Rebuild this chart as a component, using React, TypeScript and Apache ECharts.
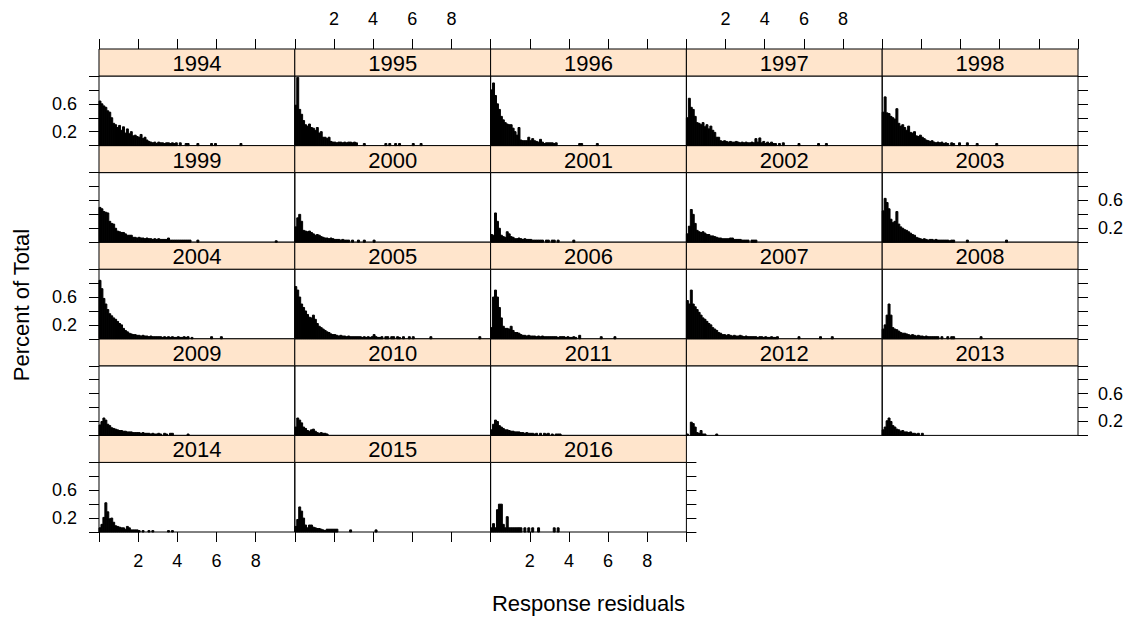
import React, { useEffect, useRef } from "react";
import * as echarts from "echarts";

const years = ["1994","1995","1996","1997","1998","1999","2000","2001","2002","2003","2004","2005","2006","2007","2008","2009","2010","2011","2012","2013","2014","2015","2016"];
const BIN = 0.1;
const xTicks = [2, 4, 6, 8];
const yTickLabels = ["0.2", "0.6"];

const h1994 = [0.64,0.6,0.57,0.55,0.5,0.48,0.4,0.32,0.3,0.26,0.29,0.22,0.27,0.18,0.24,0.17,0.2,0.14,0.15,0.13,0.12,0.16,0.1,0.12,0.08,0.06,0.05,0.04,0.05,0.03,0.05,0.04,0.04,0.03,0.04,0.04,0.03,0.04,0.03,0.04,0,0.04,0,0,0.03,0.03,0,0,0,0,0.03,0,0,0,0,0,0,0.03,0,0.03,0,0,0,0,0,0,0,0,0,0,0,0,0.03];
const h1995 = [0.58,0.98,0.52,0.45,0.36,0.3,0.28,0.31,0.26,0.25,0.22,0.26,0.18,0.2,0.12,0.12,0.1,0.12,0.06,0.05,0.05,0.04,0.05,0.05,0.04,0.05,0.04,0.05,0.05,0.04,0.05,0.04,0,0,0,0.03,0,0,0,0,0,0,0,0,0,0,0.03,0,0.03,0,0,0.03,0,0.03,0,0,0,0,0,0,0.03,0,0,0,0.03];
const h1996 = [0.8,0.9,0.72,0.6,0.52,0.42,0.37,0.33,0.31,0.3,0.3,0.25,0.2,0.15,0.26,0.08,0.07,0.07,0.07,0.12,0.07,0.1,0.07,0.06,0.05,0.09,0.05,0.03,0.04,0.04,0.04,0.04,0.03,0.04,0,0,0,0,0,0,0,0,0,0,0,0.03,0.03,0,0,0,0,0,0,0,0.03];
const h1997 = [0.4,0.68,0.55,0.52,0.42,0.33,0.32,0.3,0.33,0.27,0.3,0.24,0.28,0.22,0.19,0.12,0.12,0.07,0.06,0.07,0.06,0.05,0.06,0.05,0.05,0.06,0.05,0.04,0.05,0.04,0.05,0.04,0.04,0.05,0.04,0.1,0.05,0.11,0.04,0.06,0.03,0.05,0.03,0.05,0.03,0.03,0,0.03,0,0.04,0,0,0,0,0,0,0,0.03,0,0,0,0,0,0,0,0,0,0.03,0,0,0,0.03];
const h1998 = [0.48,0.7,0.47,0.46,0.42,0.4,0.38,0.53,0.32,0.28,0.3,0.26,0.22,0.28,0.19,0.18,0.2,0.14,0.13,0.15,0.12,0.1,0.08,0.07,0.06,0.07,0.05,0.04,0.05,0.04,0.05,0.03,0.04,0.03,0,0.04,0.03,0,0,0.04,0,0,0,0.04,0,0,0,0,0.03,0,0,0,0,0,0,0,0,0,0.03];
const h1999 = [0.5,0.48,0.44,0.43,0.42,0.3,0.27,0.26,0.2,0.16,0.15,0.14,0.14,0.12,0.1,0.1,0.1,0.07,0.07,0.06,0.07,0.06,0.06,0.05,0.06,0.05,0.05,0.04,0.05,0.04,0.05,0.04,0.04,0.04,0.04,0.06,0.03,0.03,0.03,0.03,0.03,0.03,0.03,0.03,0.03,0.03,0.03,0,0,0,0.03,0,0,0,0,0,0,0,0,0,0,0,0,0,0,0,0,0,0,0,0,0,0,0,0,0,0,0,0,0,0,0,0,0,0,0,0,0,0,0,0.02];
const h2000 = [0.22,0.35,0.4,0.3,0.17,0.16,0.15,0.16,0.14,0.12,0.1,0.11,0.1,0.08,0.07,0.06,0.06,0.05,0.06,0.05,0.04,0.04,0.04,0.03,0.04,0.03,0.03,0.03,0,0.03,0,0,0.03,0,0,0.03,0,0,0,0,0.03];
const h2001 = [0.11,0.1,0.42,0.3,0.2,0.1,0.08,0.07,0.15,0.12,0.08,0.07,0.05,0.05,0.06,0.05,0.04,0.05,0.04,0.04,0.04,0.03,0.03,0.03,0.03,0.03,0.03,0,0.03,0.03,0,0.03,0.03,0,0.03,0,0,0,0,0,0,0,0.03];
const h2002 = [0.12,0.23,0.47,0.4,0.27,0.17,0.15,0.14,0.15,0.13,0.11,0.11,0.09,0.09,0.08,0.07,0.06,0.06,0.05,0.05,0.05,0.05,0.06,0.06,0.04,0.04,0.04,0.04,0.03,0.03,0.03,0.03,0,0.03,0.03,0.03];
const h2003 = [0.45,0.63,0.57,0.48,0.33,0.28,0.3,0.44,0.26,0.22,0.2,0.18,0.17,0.15,0.13,0.11,0.1,0.07,0.06,0.05,0.04,0.05,0.04,0.03,0.04,0.04,0.03,0.04,0.03,0.03,0.03,0.03,0.03,0.03,0.02,0.03,0.03,0,0,0,0,0,0,0.03,0,0,0,0,0,0,0,0,0,0,0,0,0,0,0,0,0,0,0,0.03];
const h2004 = [0.84,0.72,0.58,0.5,0.42,0.36,0.33,0.3,0.28,0.25,0.22,0.2,0.15,0.12,0.1,0.08,0.07,0.06,0.06,0.05,0.05,0.04,0.05,0.04,0.04,0.03,0.04,0.03,0.03,0.03,0.03,0.03,0.02,0.03,0.02,0.03,0.02,0.03,0.02,0.02,0.03,0.02,0.02,0.03,0.02,0.03,0,0.02,0,0,0,0,0,0,0,0,0,0.03,0,0,0,0,0.03];
const h2005 = [0.75,0.7,0.6,0.5,0.45,0.4,0.35,0.31,0.3,0.34,0.28,0.22,0.18,0.16,0.14,0.12,0.1,0.09,0.07,0.06,0.06,0.05,0.04,0.05,0.04,0.04,0.03,0.04,0.03,0.03,0.03,0.03,0.03,0.03,0.02,0.03,0.02,0.03,0.02,0.03,0.06,0.03,0.02,0.02,0.03,0,0.03,0.03,0,0.03,0.03,0,0.03,0.02,0,0.03,0,0,0.03,0,0.03,0,0,0,0,0,0,0,0,0.03,0,0,0,0,0,0,0,0,0,0,0,0,0,0,0,0,0,0,0,0,0,0,0,0,0.03];
const h2006 = [0.16,0.6,0.7,0.6,0.45,0.3,0.18,0.15,0.15,0.14,0.18,0.12,0.09,0.09,0.08,0.06,0.05,0.05,0.04,0.05,0.04,0.04,0.04,0.03,0.04,0.03,0.04,0.03,0.03,0.03,0.03,0.03,0.03,0.03,0.02,0.03,0.03,0.03,0.02,0.03,0.02,0.02,0.03,0.02,0,0.05,0,0,0,0,0,0,0,0,0,0,0.03,0,0,0,0,0,0,0.03];
const h2007 = [0.55,0.5,0.7,0.5,0.46,0.42,0.38,0.34,0.3,0.28,0.25,0.22,0.2,0.16,0.14,0.12,0.09,0.08,0.06,0.06,0.05,0.06,0.05,0.04,0.05,0.04,0.04,0.05,0.04,0.03,0.04,0.03,0.03,0.03,0.03,0.03,0.02,0.03,0.03,0.02,0.03,0.02,0.02,0.03,0.02,0.02,0.03,0,0,0,0,0,0,0,0,0,0,0.03,0,0,0,0,0,0,0,0,0,0,0.03,0,0,0,0,0,0.03];
const h2008 = [0.14,0.2,0.34,0.5,0.34,0.16,0.14,0.13,0.11,0.09,0.08,0.08,0.07,0.06,0.05,0.06,0.05,0.04,0.05,0.04,0.04,0.03,0.04,0.03,0.03,0.03,0.03,0.03,0.03,0,0.03,0,0,0.03,0,0.03,0.03,0,0,0,0,0,0,0,0,0,0,0,0,0,0.03];
const h2009 = [0.15,0.2,0.25,0.22,0.16,0.14,0.11,0.1,0.09,0.08,0.07,0.07,0.06,0.06,0.05,0.05,0.05,0.04,0.04,0.04,0.04,0.03,0.04,0.03,0.03,0.03,0.02,0.03,0.02,0.02,0.03,0.02,0,0.03,0.02,0,0.03,0.03,0,0,0,0,0,0,0,0.02];
const h2010 = [0.12,0.25,0.22,0.18,0.12,0.1,0.07,0.06,0.08,0.09,0.06,0.04,0.03,0.04,0.03,0.03,0.02];
const h2011 = [0.08,0.16,0.22,0.2,0.14,0.12,0.1,0.08,0.08,0.07,0.06,0.06,0.05,0.05,0.05,0.04,0.04,0.03,0.04,0.03,0.03,0.03,0.02,0.03,0,0.03,0,0.03,0.02,0.03,0,0.02,0,0.02,0.02,0.02];
const h2012 = [0.02,0,0.19,0.17,0.12,0.04,0.03,0.07,0.02,0.02,0,0,0,0,0,0.02];
const h2013 = [0.08,0.12,0.21,0.25,0.2,0.14,0.12,0.09,0.08,0.06,0.07,0.05,0.05,0.04,0.05,0.03,0.03,0.02,0.03,0,0.03];
const h2014 = [0.06,0.11,0.21,0.42,0.29,0.19,0.2,0.14,0.09,0.08,0.07,0.06,0.06,0.04,0.08,0.06,0.03,0.03,0.03,0.03,0.02,0,0.02,0,0,0.02,0,0.02,0,0,0,0,0,0,0,0.02,0,0.02];
const h2015 = [0.08,0.18,0.36,0.3,0.2,0.1,0.06,0.1,0.1,0.07,0.06,0.05,0.05,0.04,0.03,0.02,0.04,0.04,0.04,0.04,0.04,0.04,0,0,0,0,0,0,0.03,0,0,0,0,0,0,0,0,0,0,0,0,0.03];
const h2016 = [0.06,0.12,0.06,0.32,0.4,0.4,0.11,0.06,0.22,0.06,0.06,0.06,0.06,0.06,0.06,0.06,0,0.06,0,0.06,0,0.06,0,0,0.06,0,0,0,0,0,0,0,0.06,0,0.06];

const heights = [h1994,h1995,h1996,h1997,h1998,h1999,h2000,h2001,h2002,h2003,h2004,h2005,h2006,h2007,h2008,h2009,h2010,h2011,h2012,h2013,h2014,h2015,h2016];

const FONT = "'Liberation Sans', Arial, Helvetica, sans-serif";
const X0 = 99;
const COL_W = 195.8;
const TOP0 = 49;
const ROW_H = 96.6;
const STRIP_H = 27;
const PANEL_H = ROW_H - STRIP_H;
const NCOL = 5;
const NROW = 5;

export default function App() {
  const ref = useRef<HTMLDivElement>(null);
  useEffect(() => {
    if (!ref.current) return;
    const chart = echarts.init(ref.current, undefined, { renderer: "svg" });
    const grids: any[] = [];
    const xAxes: any[] = [];
    const yAxes: any[] = [];
    const series: any[] = [];
    const graphics: any[] = [];
    years.forEach((yr, i) => {
      const r = Math.floor(i / NCOL);
      const c = i % NCOL;
      const left = X0 + c * COL_W;
      const top = TOP0 + r * ROW_H + STRIP_H;
      grids.push({ left, top, width: COL_W, height: PANEL_H, show: true, borderColor: "#000", borderWidth: 1, backgroundColor: "transparent" });
      const isTop = r === 0;
      const isBottom = r === NROW - 1;
      const lastInRow = c === NCOL - 1 || i === years.length - 1;
      const showXLab = (isTop && c % 2 === 1) || (isBottom && c % 2 === 0);
      xAxes.push({
        gridIndex: i, type: "value", min: 0, max: 10, interval: 2,
        position: isTop ? "top" : "bottom",
        offset: isTop ? STRIP_H : 0,
        axisLine: { show: false, onZero: false },
        axisTick: { show: isTop || isBottom, length: 10, lineStyle: { color: "#000", width: 1 } },
        axisLabel: {
          show: showXLab, margin: isTop ? 21 : 20, color: "#000", fontFamily: FONT, fontSize: 18,
          showMinLabel: true, showMaxLabel: true,
          formatter: (v: number) => { const s = String(Math.round(v)); return xTicks.map(String).includes(s) ? s : ""; },
        },
        splitLine: { show: false },
      });
      const leftSide = c === 0;
      const showYTick = leftSide || lastInRow;
      const showYLab = (leftSide && r % 2 === 0) || (!leftSide && lastInRow && r % 2 === 1);
      yAxes.push({
        gridIndex: i, type: "value", min: 0, max: 1, interval: 0.2,
        position: leftSide ? "left" : "right",
        axisLine: { show: false, onZero: false },
        axisTick: { show: showYTick, length: 10, lineStyle: { color: "#000", width: 1 } },
        axisLabel: {
          show: showYLab, margin: leftSide ? 22 : 20, color: "#000", fontFamily: FONT, fontSize: 18,
          formatter: (v: number) => { const s = (Math.round(v * 10) / 10).toFixed(1); return yTickLabels.includes(s) ? s : ""; },
        },
        splitLine: { show: false },
      });
      const data = heights[i]
        .map((h, k) => [k * BIN, (k + 1) * BIN, h])
        .filter((d) => d[2] > 0);
      series.push({
        type: "custom", xAxisIndex: i, yAxisIndex: i, silent: true,
        encode: { x: [0, 1], y: 2 },
        data,
        renderItem: (params: any, api: any) => {
          const a = api.coord([api.value(0), api.value(2)]);
          const b = api.coord([api.value(1), 0]);
          return {
            type: "rect",
            shape: { x: a[0], y: a[1], width: b[0] - a[0], height: b[1] - a[1] },
            style: { fill: "#000", stroke: "#000", lineWidth: 1 },
          };
        },
      });
      graphics.push({
        type: "rect", silent: true,
        shape: { x: left, y: top - STRIP_H, width: COL_W, height: STRIP_H },
        style: { fill: "#FFE5CC", stroke: "#000", lineWidth: 1 },
      });
      graphics.push({
        type: "text", silent: true,
        style: { text: yr, x: left + COL_W / 2, y: top - STRIP_H / 2 + 1, textAlign: "center", textVerticalAlign: "middle", font: `22px ${FONT}`, fill: "#000" },
      });
    });
    graphics.push({
      type: "text", silent: true,
      style: { text: "Response residuals", x: X0 + (NCOL * COL_W) / 2, y: 603, textAlign: "center", textVerticalAlign: "middle", font: `22px ${FONT}`, fill: "#000" },
    });
    graphics.push({
      type: "text", silent: true, x: 21, y: 305, rotation: Math.PI / 2,
      style: { text: "Percent of Total", x: 0, y: 0, textAlign: "center", textVerticalAlign: "middle", font: `22px ${FONT}`, fill: "#000" },
    });
    chart.setOption({
      animation: false,
      backgroundColor: "#fff",
      grid: grids,
      xAxis: xAxes,
      yAxis: yAxes,
      series,
      graphic: graphics,
    });
    return () => chart.dispose();
  }, []);
  return <div ref={ref} style={{ position: "fixed", left: 0, top: 0, width: 1134, height: 617 }} />;
}
